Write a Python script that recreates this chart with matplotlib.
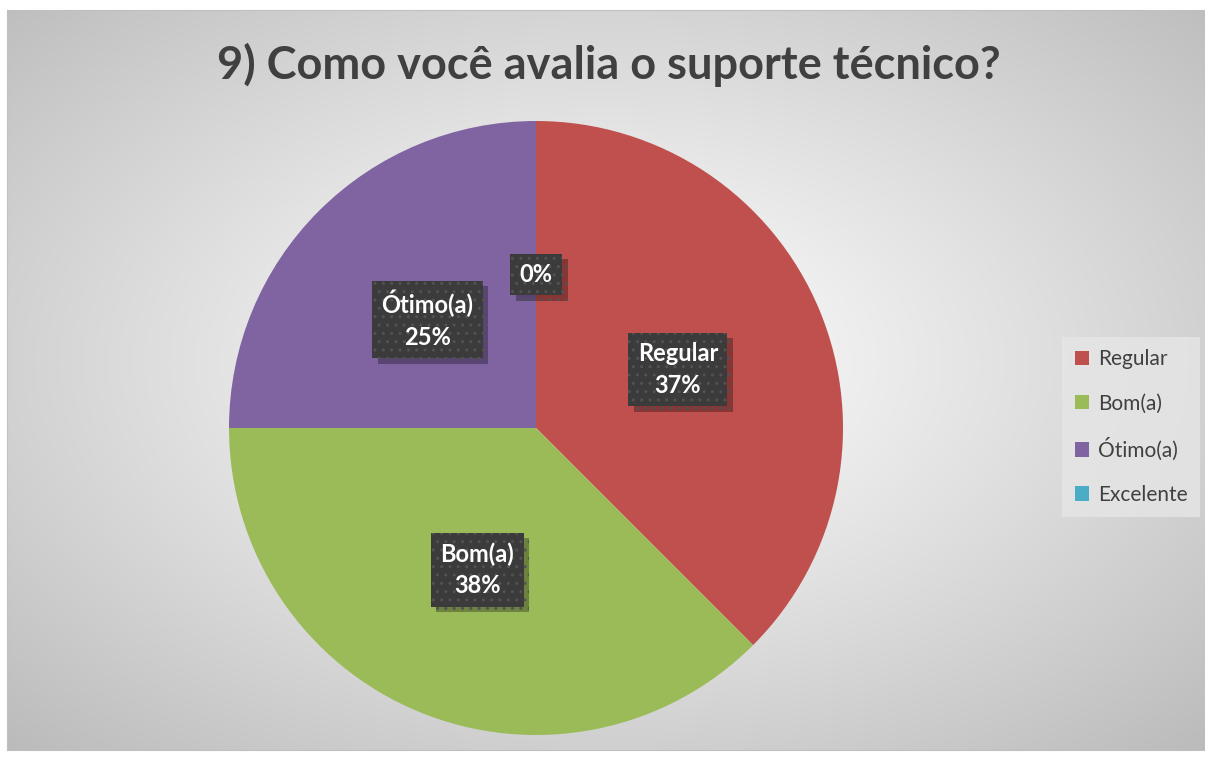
import numpy as np
import matplotlib.pyplot as plt
import matplotlib.patheffects as pe
from matplotlib.patches import Rectangle

categories = ["Regular", "Bom(a)", "Ótimo(a)", "Excelente"]
values = [3, 3, 2, 0]
pct_labels = ["37%", "38%", "25%", "0%"]
show_name = [True, True, True, False]
colors = ["#C0504D", "#9BBB59", "#8064A2", "#4BACC6"]
title = "9) Como você avalia o suporte técnico?"

W, H = 1205, 758
fig = plt.figure(figsize=(W / 100, H / 100), dpi=100)
fig.patch.set_facecolor("white")

# chart area with radial grey gradient
x0, y0, x1, y1 = 7, 8, 1205, 748
bg = fig.add_axes([x0 / W, y0 / H, (x1 - x0) / W, (y1 - y0) / H])
gx, gy = np.meshgrid(np.linspace(-1, 1, 400), np.linspace(-1, 1, 250))
cx, cy = 0.0, 0.05
d = np.sqrt((gx - cx) ** 2 + (gy - cy) ** 2) / np.sqrt(2)
shade = np.clip(1.0 - 0.26 * d ** 1.1, 0, 1)
bg.imshow(np.dstack([shade] * 3), extent=[0, 1, 0, 1], aspect="auto", origin="lower")
bg.set_xlim(0, 1)
bg.set_ylim(0, 1)
bg.set_xticks([])
bg.set_yticks([])
for s in bg.spines.values():
    s.set_color("#c0c0c0")
    s.set_linewidth(0.8)

fig.text(609 / W, 1 - 65 / H, title, ha="center", va="center", fontsize=32.5,
         fontweight="bold", color="#404040", family=["Lato", "DejaVu Sans"])

# pie
pcx, pcy, r = 536, 428, 307
ax = fig.add_axes([(pcx - r) / W, (H - pcy - r) / H, 2 * r / W, 2 * r / H])
labels = []
for name, p, sn in zip(categories, pct_labels, show_name):
    labels.append(name + "\n" + p if sn else p)
wedges, texts = ax.pie(values, colors=colors, startangle=90, counterclock=False,
                       labels=labels, labeldistance=0.5,
                       wedgeprops=dict(linewidth=0))
ax.set_xlim(-1, 1)
ax.set_ylim(-1, 1)
ax.set_aspect("equal")

for t in texts:
    t.set_ha("center")
    t.set_va("center")
    t.set_color("white")
    t.set_fontsize(17)
    t.set_fontweight("bold")
    t.set_family(["Lato", "DejaVu Sans"])
    t.set_linespacing(1.45)
    t.set_bbox(dict(boxstyle="square,pad=0.4", facecolor="#3b3b3b",
                    edgecolor="#525252", linewidth=0, hatch=".."))
    t.get_bbox_patch().set_path_effects([
        pe.SimplePatchShadow(offset=(4, -4), shadow_rgbFace="black", alpha=0.3),
        pe.Normal()])

# legend
handles = [Rectangle((0, 0), 1, 1, facecolor=c, edgecolor="none") for c in colors]
leg = fig.legend(handles, categories, loc="center", bbox_to_anchor=(1131 / W, 1 - 427 / H),
                 frameon=True, handlelength=0.7, handleheight=0.7,
                 handletextpad=0.4, labelspacing=1.15, borderpad=0.6,
                 prop={"family": ["Lato", "DejaVu Sans"], "size": 15})
leg.get_frame().set_facecolor("#e6e6e6")
leg.get_frame().set_edgecolor("none")
leg.get_frame().set_boxstyle("square", pad=0)
for t in leg.get_texts():
    t.set_color("#404040")

fig.savefig("out.png", dpi=100)
